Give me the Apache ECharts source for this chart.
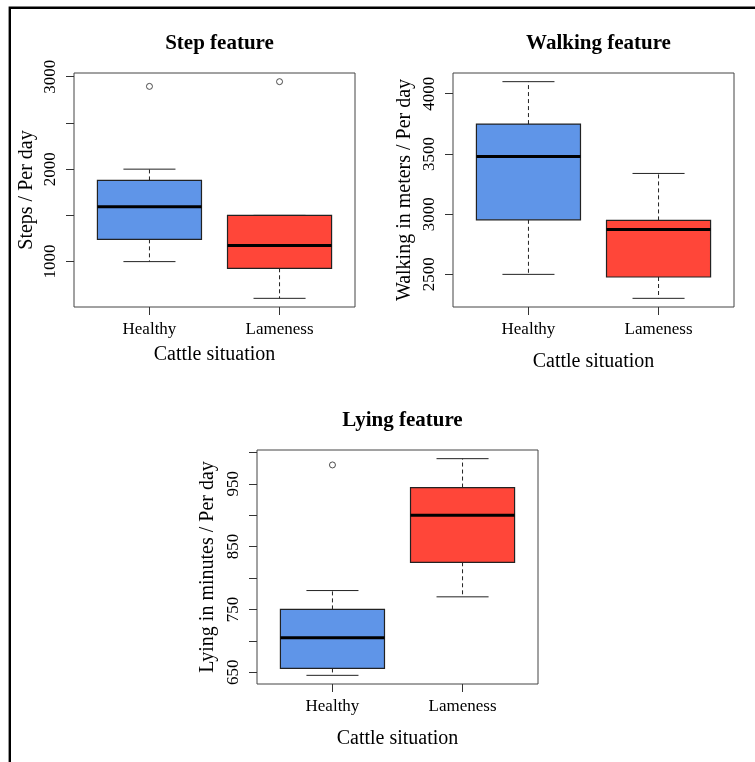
<!DOCTYPE html>
<html>
<head>
<meta charset="utf-8">
<script src="https://cdn.jsdelivr.net/npm/echarts@6/dist/echarts.min.js"></script>
<style>html,body{margin:0;padding:0;background:#fff;}#c{width:755px;height:762px;}</style>
</head>
<body>
<div id="c"></div>
<script>
// ---- data ----
const categories = ['Healthy', 'Lameness'];
// [min, Q1, median, Q3, max]
const stepHealthy = [1000, 1241, 1593, 1878, 2000];
const stepLameness = [603, 928, 1173, 1500, 1500];
const stepOutliers = [[1, 2895], [2, 2946]];
const walkHealthy = [2500, 2953, 3478, 3748, 4100];
const walkLameness = [2301, 2478, 2873, 2948, 3338];
const walkOutliers = [];
const lyingHealthy = [645, 656, 705, 750, 780];
const lyingLameness = [770, 825, 900, 944, 990];
const lyingOutliers = [[1, 980]];
const stepTicks = [1000, 1500, 2000, 2500, 3000];
const stepLabels = [1000, 2000, 3000];
const walkTicks = [2500, 3000, 3500, 4000];
const walkLabels = [2500, 3000, 3500, 4000];
const lyingTicks = [650, 700, 750, 800, 850, 900, 950, 1000];
const lyingLabels = [650, 750, 850, 950];
const titles = ['Step feature', 'Walking feature', 'Lying feature'];
const yNames = ['Steps / Per day', 'Walking in meters / Per day', 'Lying in minutes / Per day'];
const xName = 'Cattle situation';

// ---- styling ----
const FONT = 'Liberation Serif';
const fills = ['#5F95E8', '#FF4639'];
const grids = [
  {left: 74, top: 73, width: 281, height: 234},
  {left: 453, top: 73, width: 281, height: 234},
  {left: 257, top: 450, width: 281, height: 234}
];
const yRanges = [[509.3, 3039.7], [2229, 4172], [631.2, 1003.8]];
const xNameGaps = [38, 45, 45];
const yNameGaps = [37, 38, 39];

function renderBox(params, api) {
  const x = api.value(0);
  const c = v => api.coord([x, v]);
  const pMin = c(api.value(1)), pQ1 = c(api.value(2)), pMd = c(api.value(3)),
        pQ3 = c(api.value(4)), pMax = c(api.value(5));
  const bw = api.size([0.8, 0])[0];
  const cw = bw / 2;
  const cx = pMd[0];
  const dash = {stroke: '#222', lineWidth: 1, lineDash: [4, 3]};
  const solid = {stroke: '#222', lineWidth: 1};
  const ch = [];
  if (pMax[1] < pQ3[1]) ch.push({type: 'line', shape: {x1: cx, y1: pQ3[1], x2: cx, y2: pMax[1]}, style: dash});
  if (pMin[1] > pQ1[1]) ch.push({type: 'line', shape: {x1: cx, y1: pQ1[1], x2: cx, y2: pMin[1]}, style: dash});
  ch.push({type: 'line', shape: {x1: cx - cw / 2, y1: pMax[1], x2: cx + cw / 2, y2: pMax[1]}, style: solid});
  ch.push({type: 'line', shape: {x1: cx - cw / 2, y1: pMin[1], x2: cx + cw / 2, y2: pMin[1]}, style: solid});
  ch.push({type: 'rect', shape: {x: cx - bw / 2, y: pQ3[1], width: bw, height: pQ1[1] - pQ3[1]},
           style: {fill: fills[params.dataIndex], stroke: '#222', lineWidth: 1.2}});
  ch.push({type: 'line', shape: {x1: cx - bw / 2, y1: pMd[1], x2: cx + bw / 2, y2: pMd[1]},
           style: {stroke: '#000', lineWidth: 3}});
  return {type: 'group', children: ch};
}

const boxData = [
  [[1, ...stepHealthy], [2, ...stepLameness]],
  [[1, ...walkHealthy], [2, ...walkLameness]],
  [[1, ...lyingHealthy], [2, ...lyingLameness]]
];
const outData = [stepOutliers, walkOutliers, lyingOutliers];
const tickSets = [stepTicks, walkTicks, lyingTicks];
const labelSets = [stepLabels, walkLabels, lyingLabels];

const option = {
  animation: false,
  backgroundColor: '#fff',
  title: grids.map((g, i) => ({
    text: titles[i],
    left: g.left + g.width / 2,
    top: g.top - 45,
    textAlign: 'center',
    textStyle: {fontFamily: FONT, fontSize: 21, fontWeight: 'bold', color: '#000'}
  })),
  grid: grids.map(g => Object.assign({show: true, borderColor: '#444', borderWidth: 1, backgroundColor: 'transparent'}, g)),
  xAxis: grids.map((g, i) => ({
    type: 'value', gridIndex: i, min: 0.42, max: 2.58,
    name: xName, nameLocation: 'middle', nameGap: xNameGaps[i],
    nameTextStyle: {fontFamily: FONT, fontSize: 20, color: '#000'},
    axisLine: {show: false},
    splitLine: {show: false},
    axisTick: {show: true, length: 8, customValues: [1, 2], lineStyle: {color: '#333'}},
    axisLabel: {show: true, margin: 14, customValues: [1, 2], formatter: v => categories[Math.round(v) - 1],
                fontFamily: FONT, fontSize: 17, color: '#000'}
  })),
  yAxis: grids.map((g, i) => ({
    type: 'value', gridIndex: i, min: yRanges[i][0], max: yRanges[i][1],
    name: yNames[i], nameLocation: 'middle', nameGap: yNameGaps[i],
    nameTextStyle: {fontFamily: FONT, fontSize: 20, color: '#000'},
    axisLine: {show: false},
    splitLine: {show: false},
    axisTick: {show: true, length: 8, customValues: tickSets[i], lineStyle: {color: '#333'}},
    axisLabel: {show: true, rotate: 90, margin: 15, customValues: labelSets[i],
                formatter: v => String(Math.round(v)),
                fontFamily: FONT, fontSize: 17, color: '#000'}
  })),
  series: [
    ...boxData.map((d, i) => ({
      type: 'custom', xAxisIndex: i, yAxisIndex: i, renderItem: renderBox, clip: false,
      encode: {x: 0, y: [1, 2, 3, 4, 5]}, data: d
    })),
    ...outData.map((d, i) => ({
      type: 'scatter', xAxisIndex: i, yAxisIndex: i, symbol: 'circle', symbolSize: 6,
      itemStyle: {color: '#fff', borderColor: '#222', borderWidth: 1}, data: d
    }))
  ],
  graphic: [{
    type: 'rect', shape: {x: 9.8, y: 7.8, width: 900, height: 900},
    style: {fill: 'none', stroke: '#000', lineWidth: 2.4}, silent: true, z: 100
  }]
};
const chart = echarts.init(document.getElementById('c'), null, {renderer: 'canvas'});
chart.setOption(option);
</script>
</body>
</html>
